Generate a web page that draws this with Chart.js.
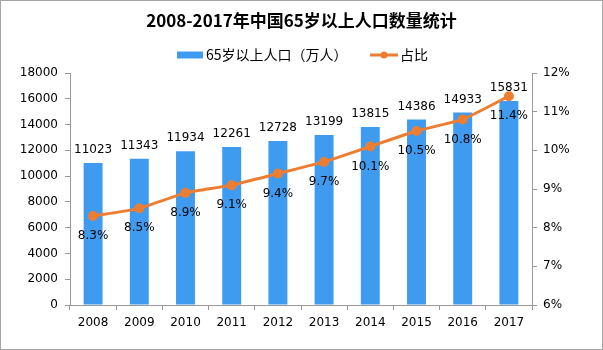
<!DOCTYPE html>
<html>
<head>
<meta charset="utf-8">
<script src="https://cdn.jsdelivr.net/npm/chart.js@4"></script>
<style>
  html, body { margin: 0; padding: 0; background: #fff; }
  #wrap { width: 603px; height: 350px; }
</style>
</head>
<body>
<div id="wrap"><canvas id="popChart" width="603" height="350"></canvas></div>
<script>
const years = ['2008', '2009', '2010', '2011', '2012', '2013', '2014', '2015', '2016', '2017'];
const population = [11023, 11343, 11934, 12261, 12728, 13199, 13815, 14386, 14933, 15831];
const share = [8.3, 8.5, 8.9, 9.1, 9.4, 9.7, 10.1, 10.5, 10.8, 11.4];

const titleText = '2008-2017年中国65岁以上人口数量统计';
const barLabel = '65岁以上人口（万人）';
const lineLabel = '占比';

const blue = '#3f9bf0';
const orange = '#ed7d31';
const axisGrey = '#999999';
const textFont = '"DejaVu Sans", sans-serif';

// labels, title, legend and frame drawn on top
const decorPlugin = {
    id: 'decor',
    afterDatasetsDraw(chart) {
        const ctx = chart.ctx;
        ctx.save();
        ctx.fillStyle = '#000';
        ctx.font = '12px ' + textFont;
        ctx.textAlign = 'center';
        ctx.textBaseline = 'middle';

        // bar values
        chart.getDatasetMeta(0).data.forEach((bar, i) => {
            ctx.fillText(String(population[i]), bar.x, bar.y - 13);
        });
        // percentages under the points
        chart.getDatasetMeta(1).data.forEach((pt, i) => {
            ctx.fillText(share[i].toFixed(1) + '%', pt.x, pt.y + 20);
        });

        // title
        ctx.font = 'bold 17px "Noto Sans CJK SC", sans-serif';
        ctx.fillText(titleText, chart.width / 2, 21);

        // legend
        ctx.font = '14px "Noto Sans CJK SC", sans-serif';
        ctx.textAlign = 'left';
        const ly = 55;
        ctx.fillStyle = blue;
        ctx.fillRect(177, ly - 3.5, 26, 7);
        ctx.fillStyle = '#000';
        ctx.fillText(barLabel, 206, ly);
        ctx.strokeStyle = orange;
        ctx.lineWidth = 3;
        ctx.beginPath();
        ctx.moveTo(370, ly);
        ctx.lineTo(398, ly);
        ctx.stroke();
        ctx.fillStyle = orange;
        ctx.beginPath();
        ctx.arc(384, ly, 3.5, 0, Math.PI * 2);
        ctx.fill();
        ctx.fillStyle = '#000';
        ctx.fillText(lineLabel, 400, ly);

        // outer frame
        ctx.strokeStyle = '#a6a6a6';
        ctx.lineWidth = 1;
        ctx.strokeRect(0.5, 0.5, chart.width - 1, chart.height - 1);
        ctx.restore();
    }
};

const ctx = document.getElementById('popChart').getContext('2d');

new Chart(ctx, {
    type: 'bar',
    data: {
        labels: years,
        datasets: [{
            type: 'bar',
            label: barLabel,
            data: population,
            backgroundColor: blue,
            barPercentage: 0.82,
            categoryPercentage: 0.5,
            yAxisID: 'y',
            order: 2
        }, {
            type: 'line',
            label: lineLabel,
            data: share,
            borderColor: orange,
            backgroundColor: orange,
            borderWidth: 3,
            pointRadius: 3.5,
            pointHoverRadius: 3.5,
            tension: 0.15,
            yAxisID: 'y1',
            order: 1
        }]
    },
    options: {
        responsive: false,
        animation: false,
        layout: {
            padding: { top: 73, left: 0, right: 0, bottom: 0 }
        },
        plugins: {
            legend: { display: false },
            title: { display: false },
            tooltip: { enabled: false }
        },
        scales: {
            x: {
                grid: {
                    display: true,
                    drawOnChartArea: false,
                    color: axisGrey,
                    tickLength: 5
                },
                border: { color: axisGrey },
                ticks: {
                    color: '#000',
                    font: { size: 12, family: textFont },
                    padding: 6,
                    maxRotation: 0
                },
                afterFit(scale) { scale.height = 45; }
            },
            y: {
                position: 'left',
                min: 0,
                max: 18000,
                grid: {
                    display: true,
                    drawOnChartArea: false,
                    color: axisGrey,
                    tickLength: 5
                },
                border: { color: axisGrey },
                ticks: {
                    stepSize: 2000,
                    color: '#000',
                    font: { size: 12, family: textFont },
                    padding: 7,
                    callback: (v) => String(v)
                },
                afterFit(scale) { scale.width = 70; }
            },
            y1: {
                position: 'right',
                min: 6,
                max: 12,
                grid: {
                    display: true,
                    drawOnChartArea: false,
                    color: axisGrey,
                    tickLength: 5
                },
                border: { color: axisGrey },
                ticks: {
                    stepSize: 1,
                    color: '#000',
                    font: { size: 12, family: textFont },
                    padding: 6,
                    callback: (v) => v + '%'
                },
                afterFit(scale) { scale.width = 71; }
            }
        }
    },
    plugins: [decorPlugin]
});
</script>
</body>
</html>
